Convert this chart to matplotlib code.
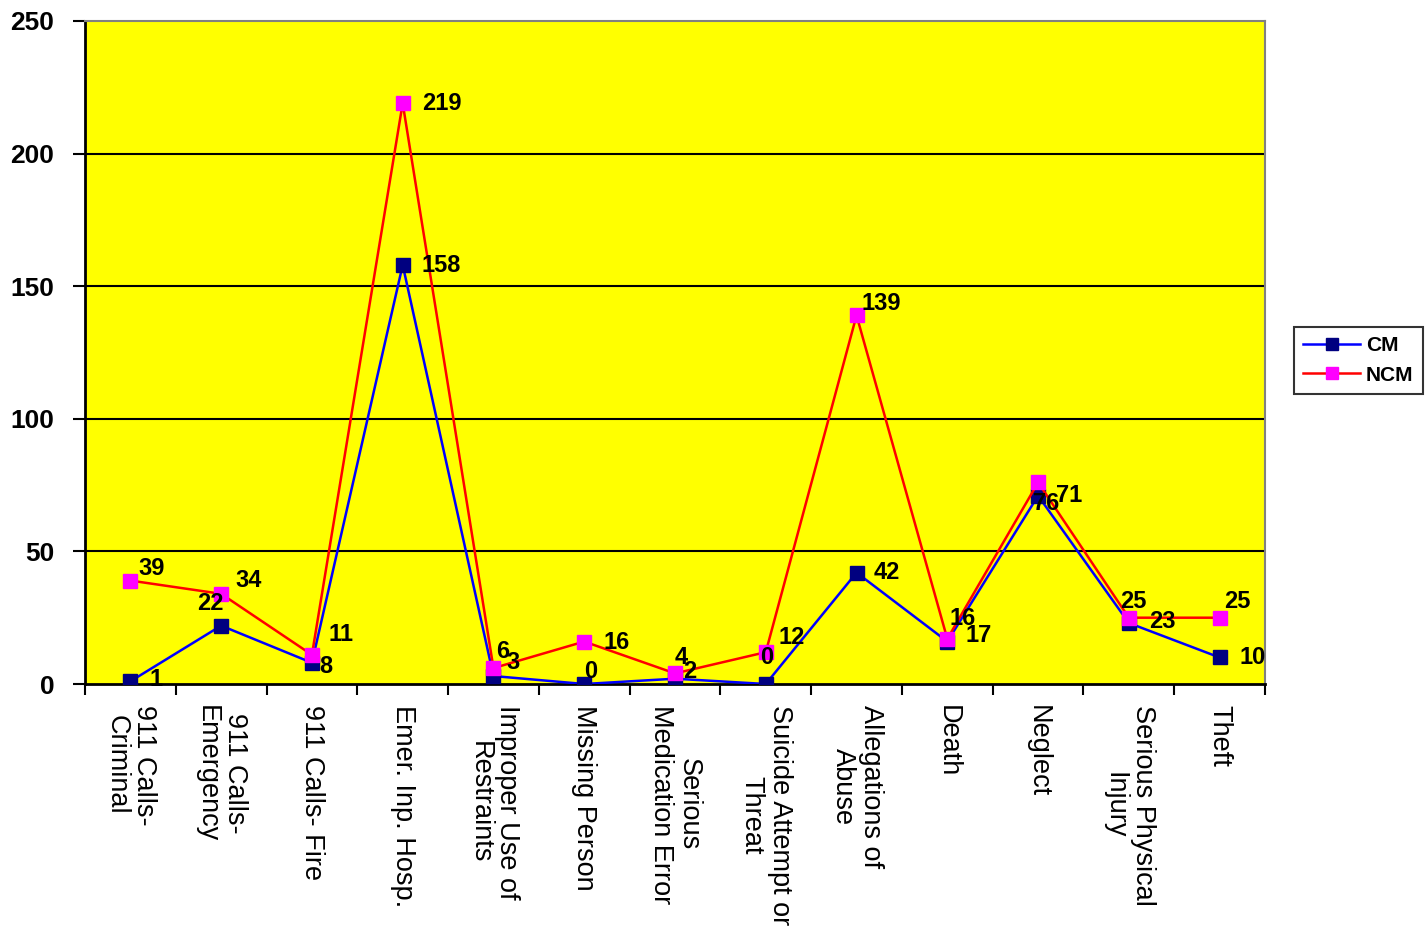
import matplotlib
matplotlib.use("Agg")
import matplotlib.pyplot as plt
import numpy as np

categories = [
    "911 Calls-\nCriminal", "911 Calls-\nEmergency", "911 Calls- Fire", "Emer. Inp. Hosp.",
    "Improper Use of\nRestraints", "Missing Person", "Serious\nMedication Error",
    "Suicide Attempt or\nThreat", "Allegations of\nAbuse", "Death", "Neglect",
    "Serious Physical\nInjury", "Theft",
]
cm_values = [1, 22, 8, 158, 3, 0, 2, 0, 42, 16, 71, 23, 10]
ncm_values = [39, 34, 11, 219, 6, 16, 4, 12, 139, 17, 76, 25, 25]
y_ticks = [0, 50, 100, 150, 200, 250]

# label offsets in pixels (dx to left edge, dy to center; +dy = downward)
cm_off = [(19, -2), (-24, -22), (7, 4), (19, 1), (13, -14), (0, -13), (8, -7),
          (-6, -27), (17, 0), (2, -23), (18, 0), (20, -2), (20, 0)]
ncm_off = [(8, -12), (14, -13), (17, -20), (19, 0), (3, -17), (19, 1), (0, -16),
           (13, -15), (5, -12), (18, -3), (-5, 21), (-9, -16), (5, -16)]

plt.rcParams['font.family'] = ['Liberation Sans', 'DejaVu Sans']

fig = plt.figure(figsize=(14.26, 9.30), dpi=100)
ax = fig.add_axes([85/1426, 1-684/930, (1265-85)/1426, (684-21)/930])
ax.set_facecolor('#FFFF00')

x = np.arange(len(categories))
ax.plot(x, cm_values, color='#0000FF', lw=1.8, marker='s', markersize=10,
        markerfacecolor='#000080', markeredgecolor='#000080', label='CM', zorder=3)
ax.plot(x, ncm_values, color='#FF0000', lw=1.8, marker='s', markersize=10,
        markerfacecolor='#FF00FF', markeredgecolor='#FF00FF', label='NCM', zorder=4)

px = 0.72
for vals, offs in ((cm_values, cm_off), (ncm_values, ncm_off)):
    for i, v in enumerate(vals):
        dx, dy = offs[i]
        ax.annotate(str(v), (x[i], v), xytext=(dx*px, -dy*px), textcoords='offset points',
                    ha='left', va='center', fontsize=17, fontweight='bold', zorder=6,
                    annotation_clip=False)

ax.set_xlim(-0.5, len(categories) - 0.5)
ax.set_ylim(0, 250)
ax.set_yticks(y_ticks)
ax.set_yticklabels([str(t) for t in y_ticks], fontsize=19, fontweight='bold')
for t in y_ticks[1:-1]:
    ax.axhline(t, color='black', lw=1.5, zorder=1)

ax.set_xticks(x)
ax.set_xticklabels(categories, rotation=270, fontsize=19.5, ha='center', va='top',
                   multialignment='center', linespacing=1.1)
ax.set_xticks(np.arange(-0.5, len(categories), 1), minor=True)
ax.tick_params(axis='x', which='major', length=0, pad=15)
ax.tick_params(axis='x', which='minor', length=8, width=1.5, direction='out', color='black')
ax.tick_params(axis='y', which='major', length=8.5, width=1.5, direction='out', pad=13.5)

for s in ['left', 'bottom']:
    ax.spines[s].set_color('black')
    ax.spines[s].set_linewidth(2)
for s in ['top', 'right']:
    ax.spines[s].set_color('#808080')
    ax.spines[s].set_linewidth(1.5)

leg = fig.legend(loc='upper left', bbox_to_anchor=(1294/1426, 1-327/930),
                 prop={'weight': 'bold', 'size': 15}, frameon=True, fancybox=False,
                 edgecolor='black', handlelength=2.7, borderpad=0.45, labelspacing=0.5,
                 handletextpad=0.3, markerscale=0.9, borderaxespad=0)
leg.get_frame().set_linewidth(1.5)

fig.savefig('out.png', dpi=100, facecolor='white')
